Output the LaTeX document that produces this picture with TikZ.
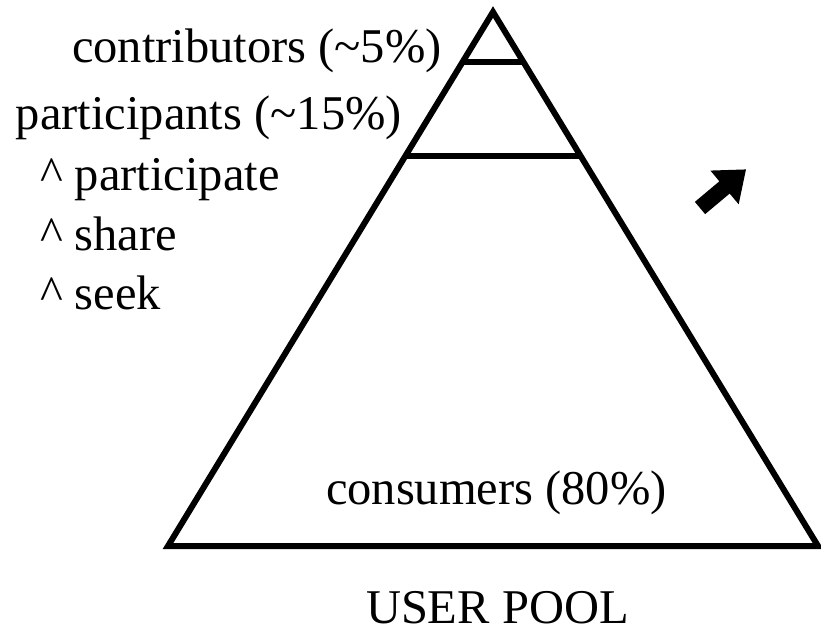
\documentclass[tikz,border=0pt]{standalone}
\usepackage{fontspec}
\setmainfont{Liberation Serif}
\usetikzlibrary{calc}
\begin{document}
\begin{tikzpicture}[x=1pt,y=-1pt,
  lbl/.style={anchor=base west,inner sep=0pt,outer sep=0pt,font=\fontsize{48.5}{58}\selectfont},
  edge/.style={line width=6pt,line join=miter}]
\useasboundingbox (0,0) rectangle (821,631);
% pyramid
\coordinate (apex) at (493,12);
\coordinate (bl) at (168,546);
\coordinate (br) at (818,546);
\draw[edge] (apex) -- (bl) -- (br) -- cycle;
\draw[edge] ($(apex)!0.0936!(bl)$) -- ($(apex)!0.0936!(br)$);
\draw[edge] ($(apex)!0.2697!(bl)$) -- ($(apex)!0.2697!(br)$);
% arrow
\fill[black,shift={(700,208)},rotate=40]
  (0,-8) -- (32,-8) -- (32,-22) -- (60,0) -- (32,22) -- (32,8) -- (0,8) -- cycle;
% labels
\node[lbl] (contrib) at (72,63) {contributors (\textasciitilde5\%)};
\node[lbl] (partic) at (16,130) {participants (\textasciitilde15\%)};
\node[lbl] (p1) at (40,190) {\textasciicircum\ participate};
\node[lbl] (p2) at (40,250) {\textasciicircum\ share};
\node[lbl] (p3) at (40,309) {\textasciicircum\ seek};
\node[lbl] (cons) at (326,504) {consumers (80\%)};
\node[lbl] (pool) at (366,623) {USER POOL};
\end{tikzpicture}
\end{document}
